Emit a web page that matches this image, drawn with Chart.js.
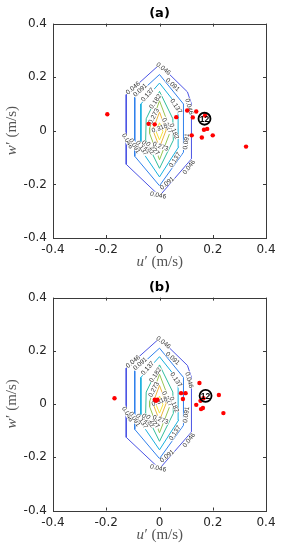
<!DOCTYPE html>
<html>
<head>
<meta charset="utf-8">
<script src="https://cdn.jsdelivr.net/npm/chart.js@4"></script>
<style>
  html, body { margin: 0; padding: 0; background: #fff; }
  body { width: 284px; height: 550px; position: relative; overflow: hidden; }
  canvas { position: absolute; left: 0; }
  #chartA { top: 0; }
  #chartB { top: 274px; }
</style>
</head>
<body>
<canvas id="chartA" width="284" height="275"></canvas>
<canvas id="chartB" width="284" height="275"></canvas>
<script>
// axis ticks
const xTicks = [-0.4, -0.2, 0, 0.2, 0.4];
const xTickLabels = ['-0.4', '-0.2', '0', '0.2', '0.4'];
const yTicks = [-0.4, -0.2, 0, 0.2, 0.4];
const yTickLabels = ['-0.4', '-0.2', '0', '0.2', '0.4'];

// contour levels (jpdf) and the outline of each level, as [u', w'] pairs
const levels = ['0.046', '0.091', '0.137', '0.182', '0.227', '0.273', '0.318'];
const contour046 = [[0, 0.247], [-0.125, 0.135], [-0.125, -0.125], [0, -0.243], [0.12, -0.105], [0.12, 0.1], [0.105, 0.145], [0, 0.247]];
const contour091 = [[0, 0.21], [-0.093, 0.125], [-0.093, -0.095], [0, -0.205], [0.09, -0.08], [0.09, 0.1], [0, 0.21]];
const contour137 = [[0, 0.178], [-0.07, 0.1], [-0.07, -0.07], [0, -0.172], [0.072, -0.06], [0.07, 0.09], [0, 0.178]];
const contour182 = [[0, 0.147], [-0.05, 0.045], [-0.052, -0.035], [0, -0.14], [0.052, -0.035], [0.05, 0.045], [0, 0.147]];
const contour227 = [[0, 0.112], [-0.037, 0.01], [-0.037, -0.01], [0, -0.108], [0.038, -0.01], [0.038, 0.012], [0, 0.112]];
const contour273 = [[0, 0.07], [-0.025, 0.003], [0, -0.062], [0.025, 0.003], [0, 0.07]];
const contour318 = [[0, 0.03], [-0.013, -0.002], [0, -0.034], [0.013, -0.002], [0, 0.03]];
const contours = [contour046, contour091, contour137, contour182, contour227, contour273, contour318];

// inline contour labels: text, u', w', angle
const contourLabels = [
    ['0.046', 0.015, 0.232, 38],
    ['0.046', -0.1, 0.16, -40],
    ['0.091', -0.073, 0.152, -42],
    ['0.137', -0.045, 0.135, -48],
    ['0.182', -0.016, 0.11, -55],
    ['0.091', 0.05, 0.172, 42],
    ['0.137', 0.063, 0.092, 57],
    ['0.046', 0.112, 0.09, 75],
    ['0.091', 0.1, -0.04, -82],
    ['0.227', 0.03, 0.02, 62],
    ['0.182', 0.055, -0.002, 68],
    ['0.273', -0.022, 0.055, -62],
    ['0.318', 0.0, 0.01, -20],
    ['0.046', -0.12, -0.038, 60],
    ['0.091', -0.093, -0.056, 58],
    ['0.137', -0.066, -0.064, 55],
    ['0.182', -0.043, -0.062, 50],
    ['0.227', -0.025, -0.066, 45],
    ['0.273', 0.004, -0.058, 20],
    ['0.137', 0.057, -0.108, -57],
    ['0.046', 0.11, -0.135, -52],
    ['0.091', 0.028, -0.195, -40],
    ['0.046', -0.005, -0.24, 12]
];

// velocity fluctuations, panel (a)
const dotsAU = [-0.196, -0.041, -0.018, 0.063, 0.104, 0.138, 0.125, 0.171, 0.121, 0.159, 0.167, 0.179, 0.2, 0.325];
const dotsAW = [0.062, 0.026, 0.024, 0.051, 0.076, 0.072, 0.05, 0.057, -0.017, -0.025, 0.004, 0.007, -0.017, -0.059];
// velocity fluctuations, panel (b)
const dotsBU = [-0.169, -0.018, -0.008, -0.013, 0.081, 0.098, 0.088, 0.15, 0.138, 0.154, 0.165, 0.156, 0.163, 0.223, 0.24];
const dotsBW = [0.022, 0.016, 0.016, 0.012, 0.041, 0.041, 0.019, 0.079, -0.003, 0.012, 0.022, -0.019, -0.015, 0.034, -0.034];

// event marker
const markText = '12';
const markA = [0.169, 0.045];
const markB = [0.173, 0.031];

const lineColors = ['#4a52e4', '#2f80ec', '#17b0de', '#30bd9c', '#98c552', '#ecb53e', '#f5e43a'];
const axisColor = '#3a3a3a';

function drawMixedTitle(ctx, x, y, letter) {
    const italic = 'italic 15px "Liberation Serif"';
    const plain = '15px "Liberation Serif"';
    const rest = '\u2032 (m/s)';
    ctx.font = italic;
    const w1 = ctx.measureText(letter).width;
    ctx.font = plain;
    const w2 = ctx.measureText(rest).width;
    let sx = x - (w1 + w2) / 2;
    ctx.textAlign = 'left';
    ctx.textBaseline = 'middle';
    ctx.font = italic;
    ctx.fillText(letter, sx, y);
    ctx.font = plain;
    ctx.fillText(rest, sx + w1 + 0.5, y);
}

const framePlugin = {
    id: 'frame',
    afterDatasetDraw(chart, args) {
        // contours are datasets 1..7 and drawn last-to-first, so label after dataset 1
        if (args.index !== 1) return;
        const ctx = chart.ctx, xs = chart.scales.x, ys = chart.scales.y;
        ctx.save();
        ctx.font = '6.5px "Liberation Sans"';
        ctx.textAlign = 'center';
        ctx.textBaseline = 'middle';
        contourLabels.forEach(([t, u, w, a]) => {
            ctx.save();
            ctx.translate(xs.getPixelForValue(u), ys.getPixelForValue(w));
            ctx.rotate(a * Math.PI / 180);
            const tw = ctx.measureText(t).width;
            ctx.fillStyle = '#fff';
            ctx.fillRect(-tw / 2 - 0.5, -2.6, tw + 1, 5.2);
            ctx.fillStyle = '#333';
            ctx.fillText(t, 0, 0.3);
            ctx.restore();
        });
        ctx.restore();
    },
    afterDatasetsDraw(chart, args, opts) {
        const ctx = chart.ctx, xs = chart.scales.x, ys = chart.scales.y;
        const px = xs.getPixelForValue(opts.mark[0]);
        const py = ys.getPixelForValue(opts.mark[1]);
        ctx.save();
        ctx.strokeStyle = '#000';
        ctx.lineWidth = 1.8;
        ctx.beginPath();
        ctx.arc(px, py, 6, 0, Math.PI * 2);
        ctx.stroke();
        ctx.fillStyle = '#000';
        ctx.font = 'bold 8.5px "Liberation Sans"';
        ctx.textAlign = 'center';
        ctx.textBaseline = 'middle';
        ctx.fillText(markText, px, py + 0.5);
        ctx.restore();
    },
    afterDraw(chart) {
        const ctx = chart.ctx, a = chart.chartArea, xs = chart.scales.x, ys = chart.scales.y;
        ctx.save();
        ctx.strokeStyle = axisColor;
        ctx.lineWidth = 1;
        ctx.strokeRect(Math.round(a.left) + 0.5, Math.round(a.top) + 0.5,
            Math.round(a.right - a.left), Math.round(a.bottom - a.top));
        ctx.beginPath();
        xTicks.forEach(v => {
            const x = Math.round(xs.getPixelForValue(v)) + 0.5;
            ctx.moveTo(x, a.bottom); ctx.lineTo(x, a.bottom - 3);
            ctx.moveTo(x, a.top); ctx.lineTo(x, a.top + 3);
        });
        yTicks.forEach(v => {
            const y = Math.round(ys.getPixelForValue(v)) + 0.5;
            ctx.moveTo(a.left, y); ctx.lineTo(a.left + 3, y);
            ctx.moveTo(a.right, y); ctx.lineTo(a.right - 3, y);
        });
        ctx.stroke();

        ctx.fillStyle = '#555';
        drawMixedTitle(ctx, (a.left + a.right) / 2, a.bottom + 24.5, 'u');
        ctx.translate(12, (a.top + a.bottom) / 2);
        ctx.rotate(-Math.PI / 2);
        drawMixedTitle(ctx, 0, 0, 'w');
        ctx.restore();
    }
};

function makeChart(id, title, dotsU, dotsW, mark, xAxisHeight) {
    const datasets = [{
        data: dotsU.map((u, i) => ({ x: u, y: dotsW[i] })),
        showLine: false,
        pointRadius: 2.2,
        pointBackgroundColor: '#ff0000',
        pointBorderWidth: 0
    }];
    contours.forEach((c, i) => {
        datasets.push({
            label: levels[i],
            data: c.map(p => ({ x: p[0], y: p[1] })),
            showLine: true,
            pointRadius: 0,
            borderColor: lineColors[i],
            borderWidth: 1,
            fill: false,
            tension: 0
        });
    });

    const tickFont = { family: '"DejaVu Sans"', size: 12 };
    new Chart(document.getElementById(id), {
        type: 'scatter',
        data: { datasets },
        options: {
            responsive: false,
            animation: false,
            layout: { padding: { left: 0, right: 18, top: 0, bottom: 0 } },
            plugins: {
                legend: { display: false },
                tooltip: { enabled: false },
                title: {
                    display: true,
                    text: title,
                    fullSize: false,
                    color: '#000',
                    font: { family: '"DejaVu Sans"', size: 13, weight: 'bold' },
                    padding: { top: 6, bottom: 2 }
                },
                frame: { mark }
            },
            scales: {
                x: {
                    type: 'linear', min: -0.4, max: 0.4,
                    afterBuildTicks: s => { s.ticks = xTicks.map(v => ({ value: v })); },
                    afterFit: s => { s.height = xAxisHeight; },
                    grid: { display: false, drawTicks: false },
                    border: { display: false },
                    ticks: {
                        padding: 5, color: '#262626', font: tickFont,
                        maxRotation: 0, autoSkip: false,
                        callback: (v, i) => xTickLabels[i]
                    }
                },
                y: {
                    type: 'linear', min: -0.4, max: 0.4,
                    afterBuildTicks: s => { s.ticks = yTicks.map(v => ({ value: v })); },
                    afterFit: s => { s.width = 53; },
                    grid: { display: false, drawTicks: false },
                    border: { display: false },
                    ticks: {
                        padding: 6, color: '#262626', font: tickFont,
                        autoSkip: false,
                        callback: (v, i) => yTickLabels[i]
                    }
                }
            }
        },
        plugins: [framePlugin]
    });
}

makeChart('chartA', '(a)', dotsAU, dotsAW, markA, 37);
makeChart('chartB', '(b)', dotsBU, dotsBW, markB, 38.5);
</script>
</body>
</html>
